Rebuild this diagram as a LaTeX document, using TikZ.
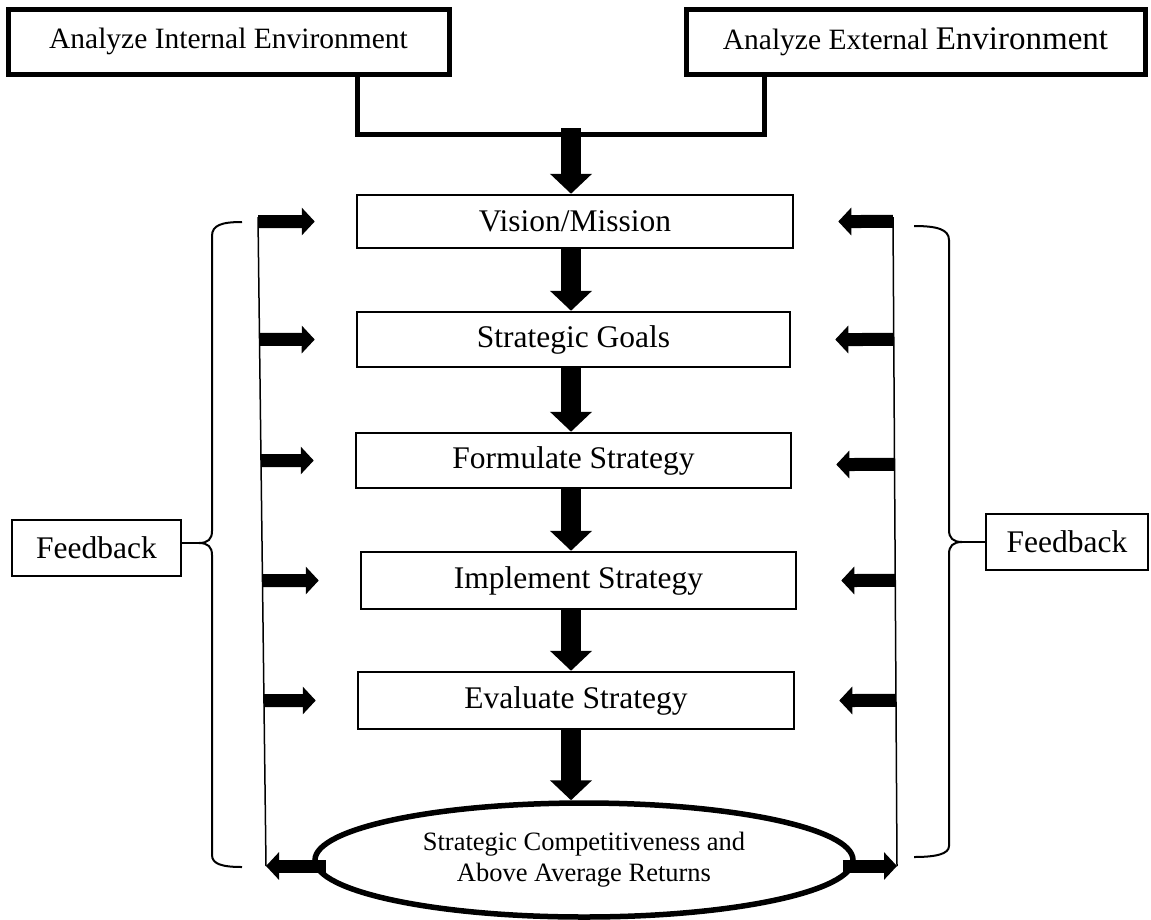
\documentclass[tikz,border=0pt]{standalone}
\usepackage{fontspec}
\setmainfont{Liberation Serif}
\usetikzlibrary{arrows.meta,calc,shapes.geometric}

\begin{document}
\begin{tikzpicture}[x=1pt,y=-1pt,
    caja/.style={draw, line width=2.5pt, inner sep=0pt, minimum width=436pt, minimum height=55pt, font=\fontsize{31.5}{36}\selectfont},
    cajagruesa/.style={draw, line width=5pt, inner sep=0pt, minimum height=65pt, font=\fontsize{29.5}{34}\selectfont},
    cajafb/.style={draw, line width=2pt, inner sep=0pt, minimum height=56pt, font=\fontsize{31.5}{36}\selectfont},
    flechabaja/.style={line width=20pt, -{Triangle[length=20pt,width=41pt]}},
    flechalado/.style={line width=13pt, -{Triangle[length=13pt,width=27pt]}},
    unionlinea/.style={line width=5pt},
    linea/.style={line width=1.5pt},
    llave/.style={line width=2pt}]
    \useasboundingbox (0,0) rectangle (1151,919);
    % Entornos
    \node[cajagruesa, minimum width=441pt] (intl) at (228.5,41.5) {Analyze Internal Environment};
    \node[cajagruesa, minimum width=459pt] (extl) at (915.5,41.5) {Analyze External {\fontsize{33}{36}\selectfont Environment}};
    % Proceso
    \node[caja, minimum height=53pt] (vis) at (575,221.5) {Vision/Mission};
    \node[caja, minimum width=433pt] (goal) at (573.5,339.5) {Strategic Goals};
    \node[caja, minimum width=435pt] (form) at (573.5,460.5) {Formulate Strategy};
    \node[caja, minimum width=435pt, minimum height=57pt] (impl) at (578.5,580.5) {Implement Strategy};
    \node[caja, minimum height=57pt] (eval) at (576,700.5) {Evaluate Strategy};
    \node[draw, ellipse, line width=5.5pt, inner sep=0pt, minimum width=538pt, minimum height=114pt,
        align=center, font=\fontsize{26.5}{31}\selectfont] (ret) at (584,860)
        {Strategic Competitiveness and\\Above Average Returns};
    % Feedback
    \node[cajafb, minimum width=169pt] (fbl) at (96.5,548) {Feedback};
    \node[cajafb, minimum width=162pt] (fbr) at (1067,542) {Feedback};
    % Puntos
    \coordinate (jl) at (357,134.5);
    \coordinate (jr) at (764,134.5);
    \coordinate (ent) at (571,128);
    \coordinate (ax) at (571,0);
    \coordinate (lt) at (258,217);
    \coordinate (lb) at (266,866);
    \coordinate (rt) at (893,217);
    \coordinate (rb) at (897,866);
    \coordinate (cl) at (199,543);
    \coordinate (cr) at (962,542);
    % Union superior
    \draw[unionlinea] (intl.south -| jl) |- (jr) -- (extl.south -| jr);
    \draw[flechabaja] (ent) -- (vis.north -| ax);
    % Flechas hacia abajo
    \draw[flechabaja] (vis.south -| ax) -- (goal.north -| ax);
    \draw[flechabaja] (goal.south -| ax) -- (form.north -| ax);
    \draw[flechabaja] (form.south -| ax) -- (impl.north -| ax);
    \draw[flechabaja] (impl.south -| ax) -- (eval.north -| ax);
    \draw[flechabaja] (eval.south -| ax) -- (ret.north -| ax);
    % Lineas laterales
    \draw[linea] (lt) -- (lb);
    \draw[linea] (rt) -- (rb);
    % Flechas izquierda
    \draw[flechalado] (intersection of lt--lb and vis.west--vis.east) -- ([xshift=-41pt]vis.west);
    \draw[flechalado] (intersection of lt--lb and goal.west--goal.east) -- ([xshift=-41pt]goal.west);
    \draw[flechalado] (intersection of lt--lb and form.west--form.east) -- ([xshift=-41pt]form.west);
    \draw[flechalado] (intersection of lt--lb and impl.west--impl.east) -- ([xshift=-41pt]impl.west);
    \draw[flechalado] (intersection of lt--lb and eval.west--eval.east) -- ([xshift=-41pt]eval.west);
    \draw[flechalado] ([xshift=14pt]ret.west |- lb) -- (lb);
    % Flechas derecha
    \draw[flechalado] (intersection of rt--rb and vis.west--vis.east) -- ([xshift=44pt]vis.east);
    \draw[flechalado] (intersection of rt--rb and goal.west--goal.east) -- ([xshift=44pt]goal.east);
    \draw[flechalado] ([yshift=-4pt]intersection of rt--rb and form.west--form.east) -- ([xshift=44pt,yshift=-4pt]form.east);
    \draw[flechalado] (intersection of rt--rb and impl.west--impl.east) -- ([xshift=44pt]impl.east);
    \draw[flechalado] (intersection of rt--rb and eval.west--eval.east) -- ([xshift=44pt]eval.east);
    \draw[flechalado] ([xshift=-13pt]ret.east |- rb) -- (rb);
    % Llaves
    \draw[llave] (242,222) .. controls (222,222) and (212,225) .. (212,236) -- (212,531)
        .. controls (212,539) and (208,543) .. (cl) .. controls (208,543) and (212,547) .. (212,555)
        -- (212,855) .. controls (212,864) and (222,867) .. (242,867);
    \draw[llave] (cl) -- (cl -| fbl.east);
    \draw[llave] (914,226) .. controls (936,226) and (949,229) .. (949,240) -- (949,530)
        .. controls (949,538) and (953,542) .. (cr) .. controls (953,542) and (949,546) .. (949,554)
        -- (949,846) .. controls (949,854) and (936,857) .. (914,857);
    \draw[llave] (cr) -- (cr -| fbr.west);
\end{tikzpicture}
\end{document}
